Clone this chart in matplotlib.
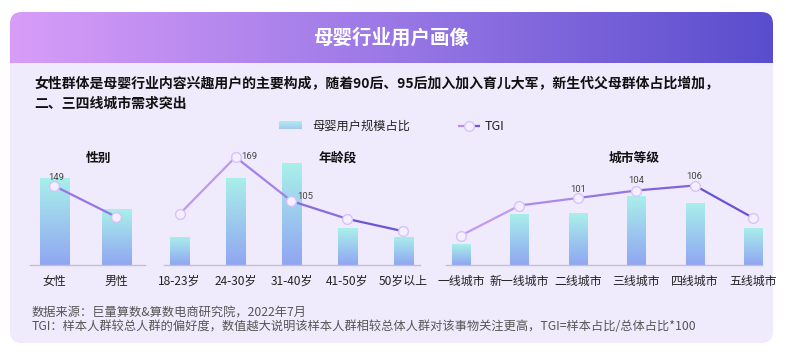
import numpy as np
import matplotlib
matplotlib.use("Agg")
import matplotlib.pyplot as plt
from matplotlib.colors import LinearSegmentedColormap
from matplotlib.collections import LineCollection
from matplotlib.patches import FancyBboxPatch

plt.rcParams['font.family'] = ['Noto Sans CJK SC', 'DejaVu Sans']

# ---- data ----
gender_cats = ["女性", "男性"]
gender_share = [61, 39]          # 母婴用户规模占比 (%)
gender_tgi = [149, 66]

age_cats = ["18-23岁", "24-30岁", "31-40岁", "41-50岁", "50岁以上"]
age_share = [10, 31, 36, 13, 10]
age_tgi = [86, 169, 105, 79, 61]

city_cats = ["一线城市", "新一线城市", "二线城市", "三线城市", "四线城市", "五线城市"]
city_share = [7.2, 17.6, 17.9, 23.8, 21.4, 12.8]
city_tgi = [86, 98, 101, 104, 106, 93]

title = "母婴行业用户画像"
subtitle = ("女性群体是母婴行业内容兴趣用户的主要构成，随着90后、95后加入加入育儿大军，新生代父母群体占比增加，\n"
            "二、三四线城市需求突出")
source = "数据来源：巨量算数&算数电商研究院，2022年7月"
note = "TGI：样本人群较总人群的偏好度，数值越大说明该样本人群相较总体人群对该事物关注更高，TGI=样本占比/总体占比*100"

# ---- colours ----
bar_cmap = LinearSegmentedColormap.from_list("bar", ["#90a6f2", "#a9f0ea"])
line_cmap = LinearSegmentedColormap.from_list("line", ["#cda2f6", "#5e4ad3"])
head_cmap = LinearSegmentedColormap.from_list("head", ["#d89df8", "#9a78e6", "#5a4dcd"])
card_bg = "#efebfc"

W, H = 786, 362
fig = plt.figure(figsize=(W / 100, H / 100), dpi=100)
fig.patch.set_facecolor("white")

# background card drawn in pixel units
bg = fig.add_axes([0, 0, 1, 1], zorder=0)
bg.axis("off")
card = FancyBboxPatch((10, 12), 763, 331, boxstyle="round,pad=0,rounding_size=12",
                      facecolor=card_bg, edgecolor="none", zorder=1)
bg.add_patch(card)
hg = bg.imshow(np.linspace(0, 1, 256).reshape(1, -1), extent=(10, 773, 63, 12),
               cmap=head_cmap, aspect="auto", interpolation="bicubic", zorder=2)
hg.set_clip_path(card)

bg.text(391, 38, title, ha="center", va="center", color="white", fontsize=14,
        fontweight="bold", zorder=3)
bg.text(34, 94, subtitle, ha="left", va="center", color="#111", fontsize=10,
        fontweight="bold", linespacing=1.45, zorder=3)
bg.text(32, 313, source, ha="left", va="center", color="#555", fontsize=8.8, zorder=3)
bg.text(32, 326, note, ha="left", va="center", color="#555", fontsize=8.8, zorder=3)

# legend
bg.imshow(np.linspace(0, 1, 64).reshape(-1, 1), extent=(279, 302, 129.5, 122),
          cmap=LinearSegmentedColormap.from_list("lg", ["#a6c6f4", "#a9f0ea"]),
          aspect="auto", origin="lower", zorder=2)
bg.text(312, 126, "母婴用户规模占比", ha="left", va="center", fontsize=8.8, color="#222", zorder=3)
bg.add_collection(LineCollection([[(458, 126), (469, 126)], [(469, 126), (480, 126)]],
                                 colors=[line_cmap(0.2), line_cmap(0.85)], linewidths=1.6, zorder=3))
bg.scatter([469], [126], s=50, facecolor="#f4efff", edgecolor="#d5c3fa", linewidth=1, zorder=4)
bg.text(485, 126, "TGI", ha="left", va="center", fontsize=9, color="#222", zorder=3)
bg.set_xlim(0, W)
bg.set_ylim(H, 0)

BASE, PH = 265, 125


def panel(x0, x1, cats, share, tgi, ymax, tlim, xlim, bw, ptitle, tx, labels):
    ax = fig.add_axes([x0 / W, (H - BASE) / H, (x1 - x0) / W, PH / H], zorder=2)
    ax.patch.set_alpha(0)
    x = np.arange(len(cats))
    bars = ax.bar(x, share, width=bw, color="none", edgecolor="none")
    grad = np.linspace(0, 1, 128).reshape(-1, 1)
    for b in bars:
        im = ax.imshow(grad, extent=(b.get_x(), b.get_x() + b.get_width(), 0, b.get_height()),
                       origin="lower", cmap=bar_cmap, aspect="auto", zorder=2)
        im.set_clip_path(b)
    ax.set_xlim(*xlim)
    ax.set_ylim(0, ymax)
    ax.set_xticks(x, cats)
    ax.set_yticks([])
    ax.tick_params(axis="x", length=0, pad=7, labelsize=8.6, labelcolor="#222")
    for s in ("top", "left", "right"):
        ax.spines[s].set_visible(False)
    ax.spines["bottom"].set_color("#c3bfd0")
    ax.spines["bottom"].set_linewidth(1)

    ax2 = ax.twinx()
    ax2.set_ylim(*tlim)
    ax2.set_axis_off()
    pts = np.column_stack([x, tgi])
    segs = np.stack([pts[:-1], pts[1:]], axis=1)
    n = max(len(x) - 1, 1)
    cols = [line_cmap((i + 0.5) / n) for i in range(len(segs))]
    ax2.add_collection(LineCollection(segs, colors=cols, linewidths=1.6, zorder=3))
    ax2.scatter(x, tgi, s=50, facecolor="#f4efff", edgecolor="#d5c3fa", linewidth=1,
                zorder=4, clip_on=False)
    for i, (dx, dy, ha) in labels.items():
        ax2.annotate(str(tgi[i]), (x[i], tgi[i]), xytext=(dx, dy), textcoords="offset pixels",
                     ha=ha, va="center", fontsize=6.8, color="#444", family=["Roboto", "DejaVu Sans"])
    bg.text(tx, 158, ptitle, ha="center", va="center", fontsize=9.2, fontweight="bold",
            color="#111", zorder=3)


panel(30, 145, gender_cats, gender_share, gender_tgi, 87.6, (-62.5, 272.2),
      (-0.395, 1.46), 0.468, "性别", 99, {0: (2, 9, "center")})
panel(164, 420, age_cats, age_share, age_tgi, 44.3, (12, 193.8),
      (-0.277, 4.295), 0.34, "年龄段", 338, {1: (6, 1, "left"), 2: (6, 5, "left")})
panel(446, 762, city_cats, city_share, city_tgi, 43.1, (74.2, 124.2),
      (-0.257, 5.15), 0.31, "城市等级", 634,
      {2: (0, 9, "center"), 3: (0, 10, "center"), 4: (-1, 9, "center")})

fig.savefig("out.png", dpi=100, facecolor="white")
